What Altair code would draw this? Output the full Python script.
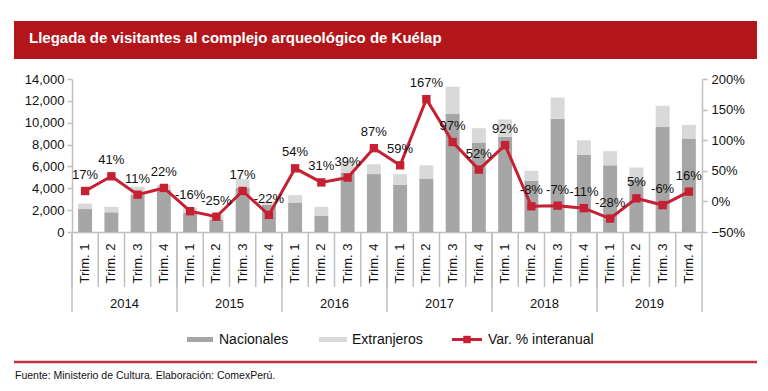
import altair as alt
import pandas as pd

# ---- data ----
years = ["2014", "2015", "2016", "2017", "2018", "2019"]
trims = ["1", "2", "3", "4"]
nacionales = [2100, 1800, 3400, 3850, 1750, 1150, 4050, 2500,
              2700, 1500, 5400, 5300, 4330, 4900, 10850, 8200,
              8700, 4700, 10370, 7050, 6100, 4800, 9600, 8550]
totales = [2600, 2300, 4150, 4300, 2200, 1550, 4850, 2800,
           3380, 2300, 6500, 6200, 5300, 6100, 13300, 9500,
           10300, 5600, 12300, 8400, 7400, 5900, 11550, 9800]
var_pct = [17, 41, 11, 22, -16, -25, 17, -22, 54, 31, 39, 87,
           59, 167, 97, 52, 92, -8, -7, -11, -28, 5, -6, 16]
left_ticks = [0, 2000, 4000, 6000, 8000, 10000, 12000, 14000]
right_ticks = [-0.5, 0, 0.5, 1.0, 1.5, 2.0]

title_text = "Llegada de visitantes al complejo arqueológico de Kuélap"
footer_text = "Fuente: Ministerio de Cultura. Elaboración: ComexPerú."

cats = [f"{y}-{t}" for y in years for t in trims]

rows = []
for c, n, t in zip(cats, nacionales, totales):
    rows.append({"cat": c, "serie": "Nacionales", "valor": n, "ord": 0})
    rows.append({"cat": c, "serie": "Extranjeros", "valor": t - n, "ord": 1})
df_bars = pd.DataFrame(rows)
df_line = pd.DataFrame({"cat": cats, "var": [v / 100 for v in var_pct],
                        "label": [f"{v}%" for v in var_pct]})
df_cats = pd.DataFrame({"cat": cats})
df_years = pd.DataFrame({"year": years, "start": [f"{y}-1" for y in years],
                         "mid": [f"{y}-3" for y in years]})
df_end = pd.DataFrame({"cat": [cats[-1]]})
one = pd.DataFrame({"a": [0]})

FONT = "Liberation Sans"
RED = "#C62033"
GRID = "#BFBFBF"
W, H = 630, 153

xscale = alt.Scale(domain=cats, paddingInner=0, paddingOuter=0)
X = alt.X("cat:N", scale=xscale, sort=cats, title=None,
          axis=alt.Axis(labelExpr="'Trim. ' + substring(datum.value, 5)",
                        labelAngle=270, ticks=False, labelPadding=11,
                        labelFontSize=13, labelFont=FONT, labelColor="#111",
                        domainColor=GRID, domainWidth=1.5))

bars = alt.Chart(df_bars).mark_bar(width=alt.RelativeBandSize(0.53)).encode(
    x=X,
    y=alt.Y("valor:Q", stack="zero",
            scale=alt.Scale(domain=[0, 14000], nice=False),
            axis=alt.Axis(values=left_ticks, format=",.0f", title=None, grid=False,
                          tickSize=5, tickColor=GRID, domainColor=GRID,
                          domainWidth=1.5, tickWidth=1.5, labelPadding=3,
                          labelFontSize=13, labelFont=FONT, labelColor="#111")),
    color=alt.Color("serie:N", scale=alt.Scale(domain=["Nacionales", "Extranjeros"],
                                               range=["#A6A6A6", "#D9D9D9"]),
                    legend=None),
    order=alt.Order("ord:Q"),
)

rscale = alt.Scale(domain=[-0.5, 2.0], nice=False)
line = alt.Chart(df_line).mark_line(
    color=RED, strokeWidth=3,
    point=alt.OverlayMarkDef(shape="square", size=70, filled=True, color=RED, opacity=1),
).encode(
    x=alt.X("cat:N", scale=xscale, sort=cats),
    y=alt.Y("var:Q", scale=rscale,
            axis=alt.Axis(orient="right", values=right_ticks, format=".0%", title=None,
                          grid=False, tickSize=5, tickColor=GRID, domainColor=GRID,
                          domainWidth=1.5, tickWidth=1.5, labelPadding=4,
                          labelFontSize=13, labelFont=FONT, labelColor="#111")),
)

labels = alt.Chart(df_line).mark_text(dy=-16, fontSize=13, font=FONT, color="#111").encode(
    x=alt.X("cat:N", scale=xscale, sort=cats),
    y=alt.Y("var:Q", scale=rscale, axis=None),
    text="label:N",
)

trim_seps = alt.Chart(df_cats).mark_rule(color=GRID, strokeWidth=1.5).encode(
    x=alt.X("cat:N", scale=xscale, sort=cats, bandPosition=0),
    y=alt.value(H), y2=alt.value(H + 55),
)
year_seps = alt.Chart(df_years).mark_rule(color=GRID, strokeWidth=1.5).encode(
    x=alt.X("start:N", scale=xscale, sort=cats, bandPosition=0),
    y=alt.value(H), y2=alt.value(H + 80),
)
end_sep = alt.Chart(df_end).mark_rule(color=GRID, strokeWidth=1.5).encode(
    x=alt.X("cat:N", scale=xscale, sort=cats, bandPosition=1),
    y=alt.value(H), y2=alt.value(H + 80),
)
year_labels = alt.Chart(df_years).mark_text(fontSize=13, font=FONT, color="#111",
                                            baseline="middle").encode(
    x=alt.X("mid:N", scale=xscale, sort=cats, bandPosition=0),
    y=alt.value(H + 72),
    text="year:N",
)

# title banner
banner = alt.Chart(one).mark_rect(color="#B2161A").encode(
    x=alt.value(-58), x2=alt.value(685), y=alt.value(-58), y2=alt.value(-20))
title = alt.Chart(one).mark_text(text=title_text, font=FONT, fontSize=15,
                                 fontWeight="bold", color="white", align="left",
                                 baseline="alphabetic").encode(
    x=alt.value(-43), y=alt.value(-36))

# legend
LY = 261
leg_nac = alt.Chart(one).mark_rect(color="#A6A6A6").encode(
    x=alt.value(115), x2=alt.value(141), y=alt.value(LY - 3), y2=alt.value(LY + 2))
leg_nac_t = alt.Chart(one).mark_text(text="Nacionales", font=FONT, fontSize=14,
                                     color="#111", align="left", baseline="middle").encode(
    x=alt.value(147), y=alt.value(LY))
leg_ext = alt.Chart(one).mark_rect(color="#D9D9D9").encode(
    x=alt.value(247), x2=alt.value(275), y=alt.value(LY - 3), y2=alt.value(LY + 2))
leg_ext_t = alt.Chart(one).mark_text(text="Extranjeros", font=FONT, fontSize=14,
                                     color="#111", align="left", baseline="middle").encode(
    x=alt.value(280), y=alt.value(LY))
leg_var = alt.Chart(one).mark_rule(color=RED, strokeWidth=3).encode(
    x=alt.value(380), x2=alt.value(410), y=alt.value(LY - 0.5))
leg_var_p = alt.Chart(one).mark_point(shape="square", size=55, filled=True,
                                      color=RED, opacity=1).encode(
    x=alt.value(395), y=alt.value(LY - 0.5))
leg_var_t = alt.Chart(one).mark_text(text="Var. % interanual", font=FONT, fontSize=14,
                                     color="#111", align="left", baseline="middle").encode(
    x=alt.value(416), y=alt.value(LY))

# footer
foot_rule = alt.Chart(one).mark_rule(color="#C8303F", strokeWidth=2.5).encode(
    x=alt.value(-58), x2=alt.value(685), y=alt.value(283))
foot_text = alt.Chart(one).mark_text(text=footer_text, font=FONT, fontSize=10.5,
                                     color="#111", align="left", baseline="middle").encode(
    x=alt.value(-57), y=alt.value(297))

chart = alt.layer(
    bars, line, labels, trim_seps, year_seps, end_sep, year_labels,
    banner, title, leg_nac, leg_nac_t, leg_ext, leg_ext_t,
    leg_var, leg_var_p, leg_var_t, foot_rule, foot_text,
).resolve_scale(y="independent").properties(
    width=W, height=H,
    autosize=alt.AutoSizeParams(type="none"),
    padding={"left": 64, "top": 71, "right": 58, "bottom": 151},
).configure_view(stroke=None)

chart.save("out.html", embed_options={"renderer": "svg", "actions": False})
